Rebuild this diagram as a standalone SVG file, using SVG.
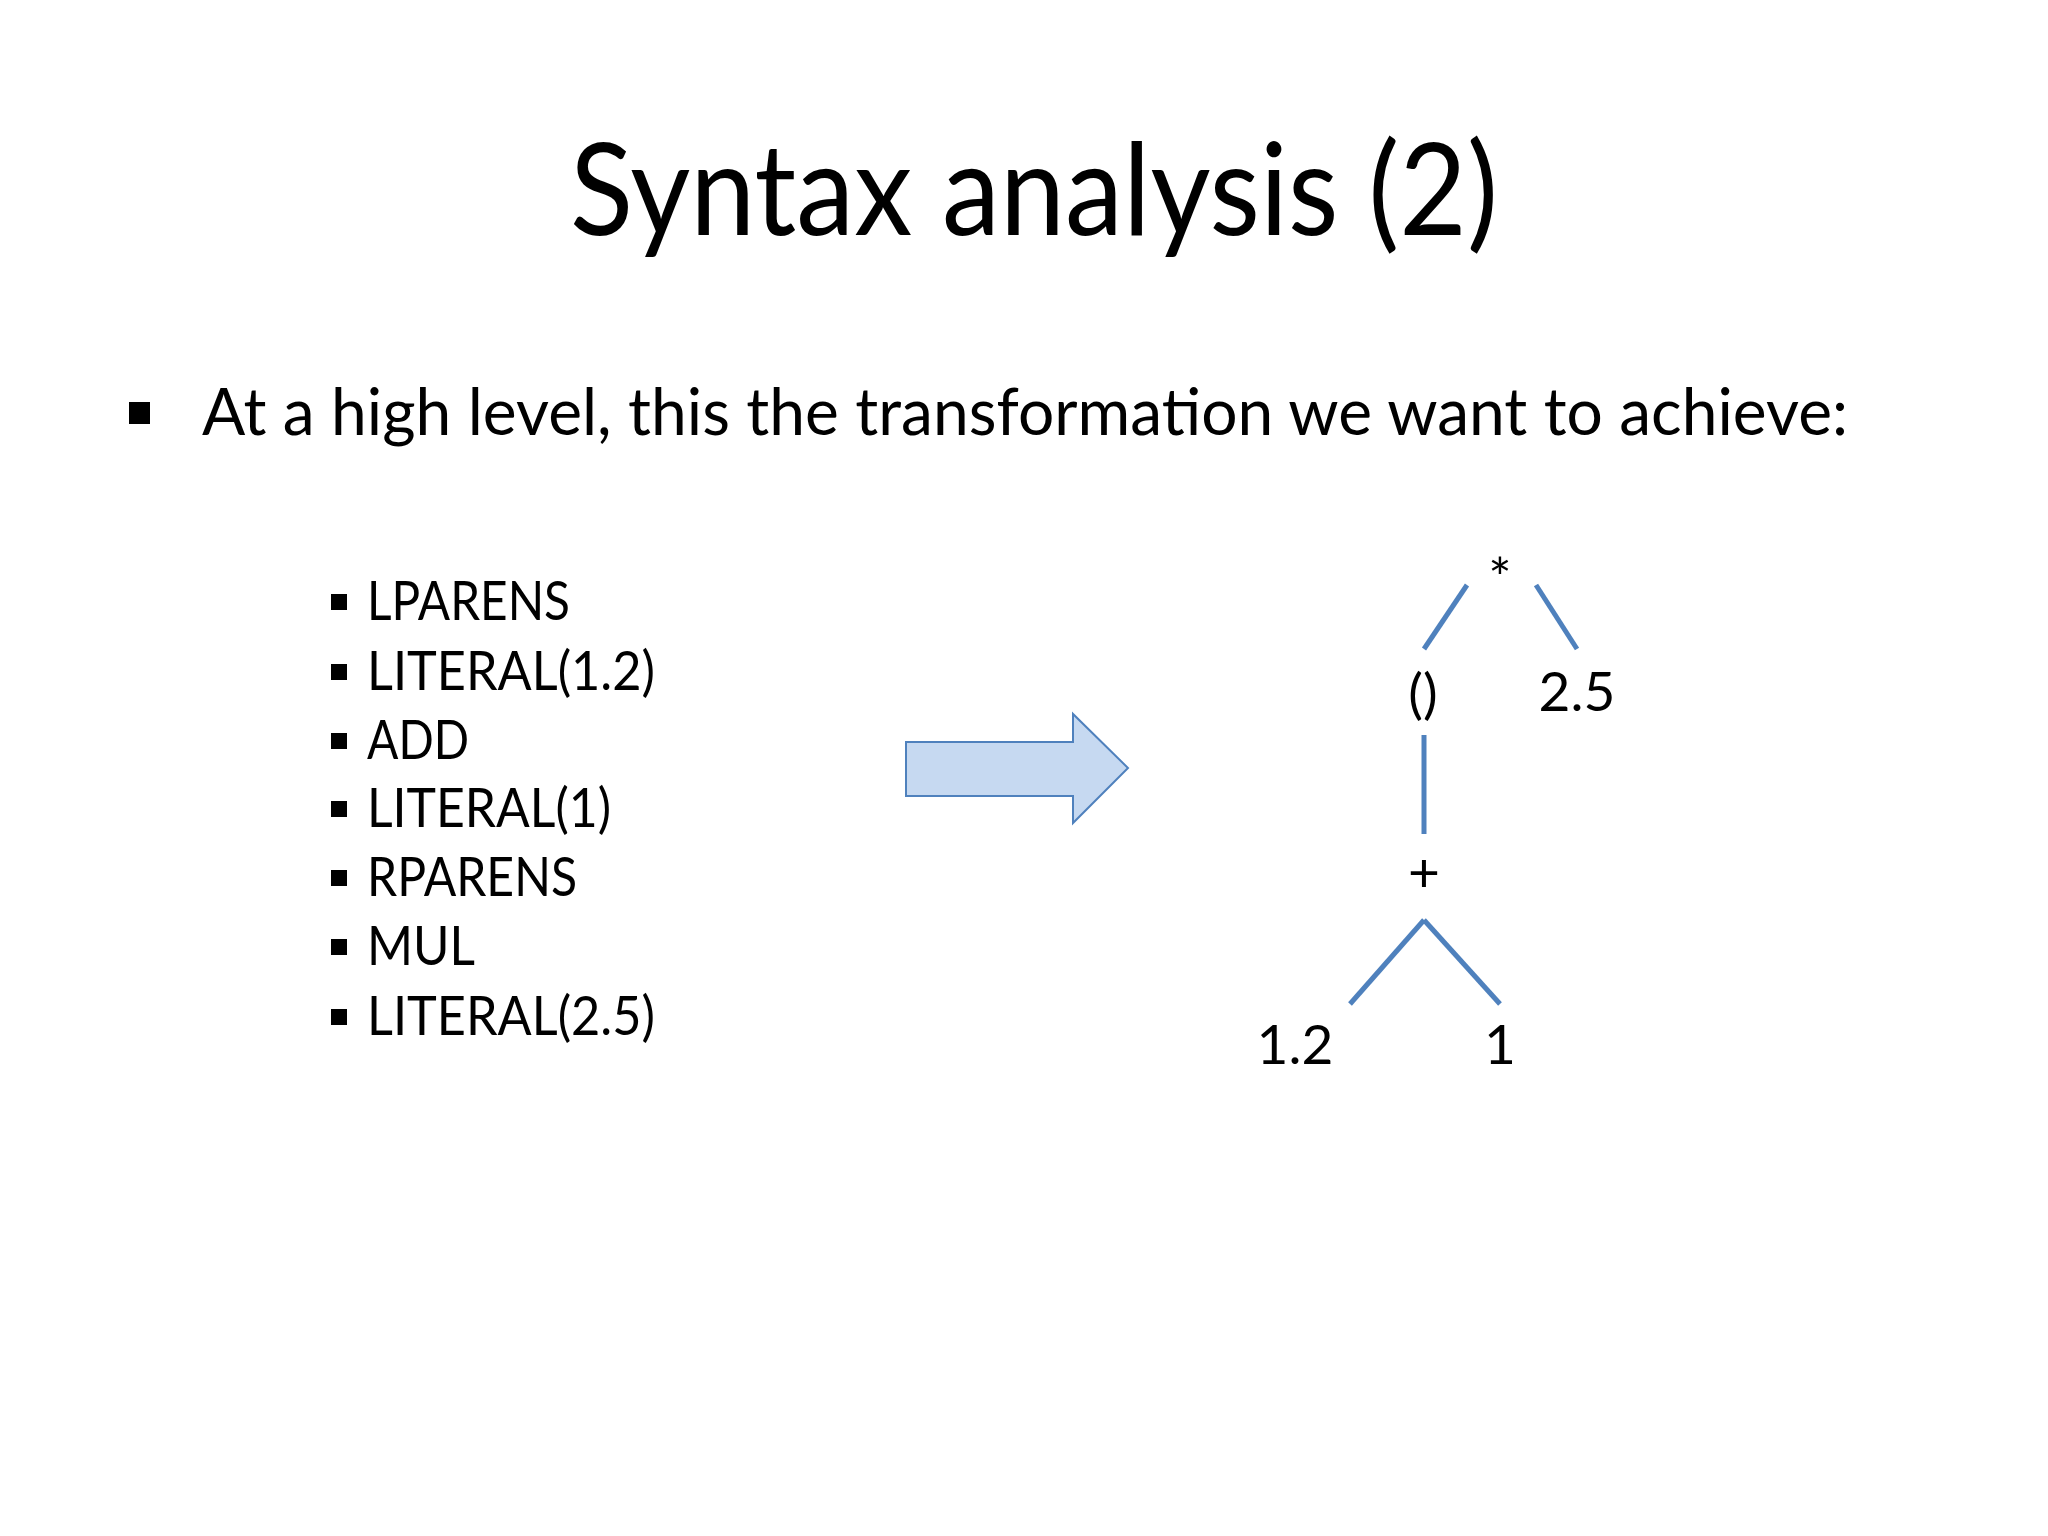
<svg xmlns="http://www.w3.org/2000/svg" width="2048" height="1536" viewBox="0 0 2048 1536">
<style>
text{font-family:Lato,"Open Sans","Liberation Sans",sans-serif;fill:#000}
.li{font-size:55px}
.t{font-size:55px;text-anchor:middle}
.e{stroke:#4f81bd;stroke-width:5;fill:none}
.sq{fill:#000}
</style>
<rect width="2048" height="1536" fill="#fff"/>
<g id="title"><text x="1034" y="235" font-size="128" text-anchor="middle" textLength="928" lengthAdjust="spacingAndGlyphs">Syntax analysis (2)</text></g>
<g id="bullet"><rect class="sq" x="129" y="402" width="21" height="22"/>
<text x="202" y="435" font-size="66" textLength="1646" lengthAdjust="spacingAndGlyphs">At a high level, this the transformation we want to achieve:</text></g>
<g id="tokens">
<rect class="sq" x="331" y="594" width="16" height="16"/><text class="li" x="367" y="620" textLength="203" lengthAdjust="spacingAndGlyphs">LPARENS</text>
<rect class="sq" x="331" y="664" width="16" height="16"/><text class="li" x="367" y="690" textLength="288" lengthAdjust="spacingAndGlyphs">LITERAL(1.2)</text>
<rect class="sq" x="331" y="733" width="16" height="16"/><text class="li" x="367" y="759" textLength="102" lengthAdjust="spacingAndGlyphs">ADD</text>
<rect class="sq" x="331" y="801" width="16" height="16"/><text class="li" x="367" y="827" textLength="244" lengthAdjust="spacingAndGlyphs">LITERAL(1)</text>
<rect class="sq" x="331" y="870" width="16" height="16"/><text class="li" x="367" y="896" textLength="210" lengthAdjust="spacingAndGlyphs">RPARENS</text>
<rect class="sq" x="331" y="939" width="16" height="16"/><text class="li" x="367" y="965" textLength="108" lengthAdjust="spacingAndGlyphs">MUL</text>
<rect class="sq" x="331" y="1009" width="16" height="16"/><text class="li" x="367" y="1035" textLength="288" lengthAdjust="spacingAndGlyphs">LITERAL(2.5)</text>
</g>
<g id="arrow"><path d="M906 742 H1073 V714 L1128 768 L1073 823 V796 H906 Z" fill="#c6d9f1" stroke="#4f81bd" stroke-width="2"/></g>
<g id="connectors">
<line class="e" x1="1467" y1="585" x2="1424" y2="649"/>
<line class="e" x1="1536" y1="585" x2="1577" y2="649"/>
<line class="e" x1="1424" y1="735" x2="1424" y2="834"/>
<line class="e" x1="1424" y1="920" x2="1350" y2="1004"/>
<line class="e" x1="1424" y1="920" x2="1500" y2="1004"/>
</g>
<g id="n_mul"><text class="t" x="1500" y="597">*</text></g>
<g id="n_paren"><text class="t" x="1423" y="713">()</text></g>
<g id="n_25"><text class="t" x="1577" y="711">2.5</text></g>
<g id="n_add"><text class="t" x="1424" y="892">+</text></g>
<g id="n_12"><text class="t" x="1295" y="1064">1.2</text></g>
<g id="n_1"><text class="t" x="1500" y="1064">1</text></g>
</svg>
